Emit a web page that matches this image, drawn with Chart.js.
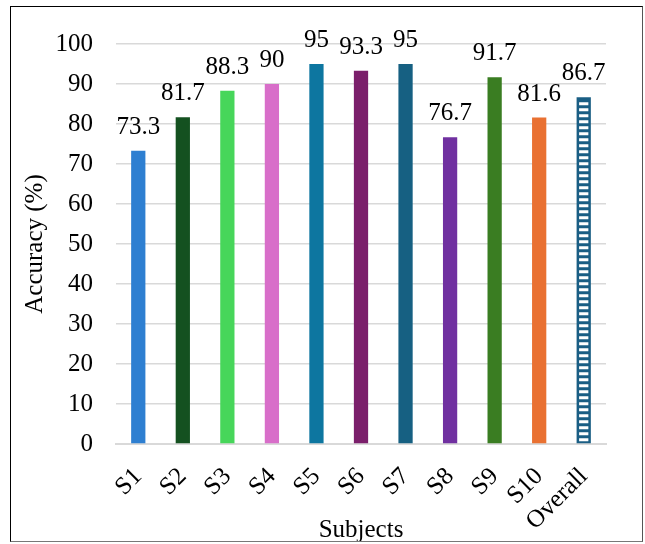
<!DOCTYPE html>
<html>
<head>
<meta charset="utf-8">
<script src="https://cdn.jsdelivr.net/npm/chart.js@4.4.0/dist/chart.umd.min.js"></script>
<style>
  html, body { margin: 0; padding: 0; background: #fff; }
  #wrap { position: relative; width: 645px; height: 544px; }
  #frame { position: absolute; left: 10px; top: 6px; width: 631px; height: 534px;
           border-left: 1.5px solid #000; border-top: 1px solid #000;
           border-right: 1px solid #555; border-bottom: 1.5px solid #777; pointer-events: none; }
</style>
</head>
<body>
<div id="wrap">
  <canvas id="accChart" width="645" height="544"></canvas>
  <div id="frame"></div>
</div>
<script>
// data
const subjects = ['S1', 'S2', 'S3', 'S4', 'S5', 'S6', 'S7', 'S8', 'S9', 'S10', 'Overall'];
const accuracy = [73.3, 81.7, 88.3, 90, 95, 93.3, 95, 76.7, 91.7, 81.6, 86.7];
const barColors = ['#2e7fd1', '#145120', '#47d65a', '#d86ec9', '#0d76a0', '#7b1f6b',
                   '#166082', '#7030a0', '#3a7d22', '#e97132', '#1a5e84'];
const yTicks = [0, 10, 20, 30, 40, 50, 60, 70, 80, 90, 100];

const serif = 'Liberation Serif';

// value labels above the bars
const valueLabels = {
  id: 'valueLabels',
  afterDatasetsDraw(chart) {
    const ctx = chart.ctx;
    const meta = chart.getDatasetMeta(0);
    ctx.save();
    ctx.font = '25px "' + serif + '"';
    ctx.fillStyle = '#000';
    ctx.textAlign = 'center';
    ctx.textBaseline = 'alphabetic';
    meta.data.forEach((bar, i) => {
      ctx.fillText(String(accuracy[i]), bar.x, bar.y - 17);
    });
    ctx.restore();
  }
};

// hatched look for the "Overall" bar (white slots inside the dark bar)
const overallHatch = {
  id: 'overallHatch',
  afterDatasetsDraw(chart) {
    const ctx = chart.ctx;
    const bar = chart.getDatasetMeta(0).data[subjects.length - 1];
    const left = bar.x - bar.width / 2;
    const right = bar.x + bar.width / 2;
    ctx.save();
    ctx.fillStyle = '#ffffff';
    for (let y = bar.base - 2; y - 3 > bar.y + 1; y -= 6) {
      ctx.fillRect(left + 2.5, y - 3, (right - left) - 5, 3);
    }
    ctx.restore();
  }
};

new Chart(document.getElementById('accChart'), {
  type: 'bar',
  data: {
    labels: subjects,
    datasets: [{
      data: accuracy,
      backgroundColor: barColors,
      borderWidth: 0,
      categoryPercentage: 1,
      barPercentage: 0.32
    }]
  },
  options: {
    responsive: false,
    animation: false,
    layout: { padding: { left: 16, right: 39, top: 44, bottom: -1 } },
    plugins: {
      legend: { display: false },
      tooltip: { enabled: false }
    },
    scales: {
      x: {
        afterFit(scale) {
          // fixed axis band, rotated labels should not push the plot sideways
          scale.height = 101;
          scale.paddingLeft = 0;
          scale.paddingRight = 0;
        },
        grid: { display: false, drawTicks: false },
        border: { display: true, color: '#d9d9d9', width: 2 },
        ticks: {
          color: '#000',
          font: { family: serif, size: 25 },
          autoSkip: false,
          maxRotation: 45,
          minRotation: 45,
          padding: 18
        },
        title: {
          display: true,
          text: 'Subjects',
          color: '#000',
          font: { family: serif, size: 25 },
          padding: { top: 0, bottom: 0 }
        }
      },
      y: {
        min: 0,
        max: 100,
        afterBuildTicks(scale) {
          scale.ticks = yTicks.map(v => ({ value: v }));
        },
        afterFit(scale) {
          scale.width = 100;
          scale.paddingTop = 0;
          scale.paddingBottom = 0;
        },
        grid: { color: '#d9d9d9', lineWidth: 1.5, drawTicks: false },
        border: { display: false },
        ticks: {
          color: '#000',
          font: { family: serif, size: 25 },
          padding: 23
        },
        title: {
          display: true,
          text: 'Accuracy (%)',
          color: '#000',
          font: { family: serif, size: 25 },
          padding: { top: 4, bottom: 4 }
        }
      }
    }
  },
  plugins: [valueLabels, overallHatch]
});
</script>
</body>
</html>
